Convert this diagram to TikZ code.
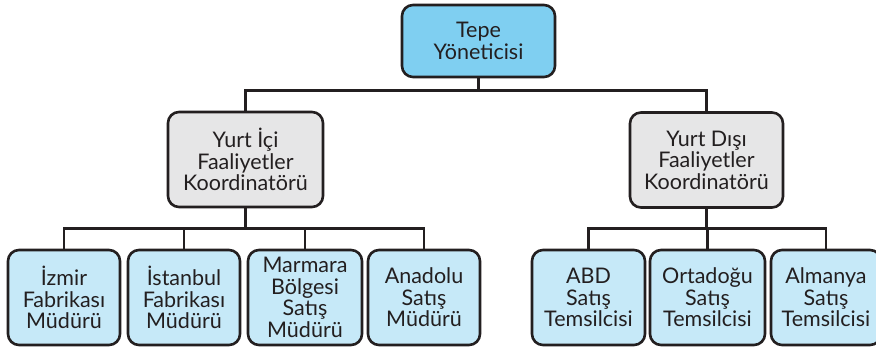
\documentclass[tikz,border=0pt]{standalone}
\usepackage{fontspec}
\setmainfont{Lato}
\definecolor{topblue}{HTML}{7FCFF1}
\definecolor{lightblue}{HTML}{C6E9F8}
\definecolor{midgray}{HTML}{E6E6E7}
\definecolor{ink}{HTML}{231F20}
\begin{document}
\begin{tikzpicture}[x=1pt,y=-1pt,
  box/.style={draw=ink, line width=2.6pt, rounded corners=11pt, align=center,
    inner sep=0pt, font=\fontsize{21.5}{21.5}\selectfont, text=ink},
  topbox/.style={box, fill=topblue, minimum width=153pt, minimum height=72pt},
  midbox/.style={box, fill=midgray, minimum width=155pt, minimum height=95pt},
  leafbox/.style={box, fill=lightblue, minimum height=95pt},
  link/.style={draw=ink, line width=2.6pt},
]
\useasboundingbox[fill=white] (0,0) rectangle (876,347);
\node[topbox] (top) at (478.5,41) {Tepe\\Yöneticisi};
\node[midbox] (lm) at (245.5,159.5) {Yurt İçi\\Faaliyetler\\Koordinatörü};
\node[midbox, minimum width=153pt] (rm) at (706.5,160) {Yurt Dışı\\Faaliyetler\\Koordinatörü};
\node[leafbox, minimum width=112pt] (b1) at (64,297.5) {İzmir\\Fabrikası\\Müdürü};
\node[leafbox, minimum width=112pt] (b2) at (184,297.5) {İstanbul\\Fabrikası\\Müdürü};
\node[leafbox, minimum width=114pt] (b3) at (305,297.5) {Marmara\\Bölgesi\\Satış\\Müdürü};
\node[leafbox, minimum width=112pt] (b4) at (424,297.5) {Anadolu\\Satış\\Müdürü};
\node[leafbox, minimum width=113pt] (b5) at (588.5,297.5) {ABD\\Satış\\Temsilcisi};
\node[leafbox, minimum width=115pt] (b6) at (707.5,297.5) {Ortadoğu\\Satış\\Temsilcisi};
\node[leafbox, minimum width=110pt] (b7) at (826,297.5) {Almanya\\Satış\\Temsilcisi};
% connectors
\path (lm.north) ++(0,-20) coordinate (busT);
\draw[link] (lm.north) -- (busT) -| (rm.north);
\draw[link] (top.south) -- (top.south |- busT);
\path (b1.north) ++(0,-20) coordinate (busL);
\draw[link] (b1.north) -- (busL) -| (b4.north);
\draw[link] (b2.north) -- (b2.north |- busL);
\draw[link] (b3.north) -- (b3.north |- busL);
\draw[link] (lm.south) -- (lm.south |- busL);
\path (b5.north) ++(0,-20) coordinate (busR);
\draw[link] (b5.north) -- (busR) -| (b7.north);
\draw[link] (b6.north) -- (b6.north |- busR);
\draw[link] (rm.south) -- (rm.south |- busR);
\end{tikzpicture}
\end{document}
